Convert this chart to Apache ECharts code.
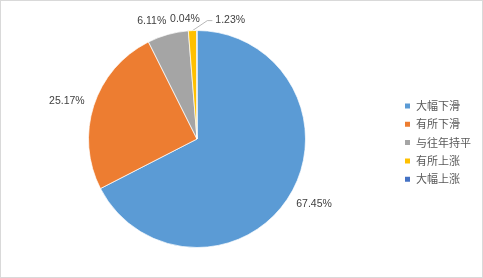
<!DOCTYPE html>
<html><head><meta charset="utf-8">
<script src="https://cdn.jsdelivr.net/npm/echarts@6/dist/echarts.min.js"></script>
<style>html,body{margin:0;padding:0;background:#fff}#c{width:483px;height:278px;box-sizing:border-box;border:1px solid #d9d9d9}</style>
</head><body><div id="c"></div>
<script>
const categories = ['大幅下滑', '有所下滑', '与往年持平', '有所上涨', '大幅上涨'];
const values = [67.45, 25.17, 6.11, 1.23, 0.04];
const colors = ['#5B9BD5', '#ED7D31', '#A5A5A5', '#FFC000', '#4472C4'];

// label nudges (dx, dy) in px, styling only
const labelNudge = [[-3.5, 5], [1.5, -2], [5, -8], [63, 0], [8, -5]];

function layoutLabel(p) {
  const [dx, dy] = labelNudge[p.dataIndex];
  const out = {dx: dx, dy: dy};
  if (p.dataIndex === 3 && p.labelLinePoints) {
    const r = p.labelRect;
    const ex = r.x + dx - 3, ey = r.y + dy + r.height / 2;
    const s = p.labelLinePoints[0];
    out.labelLinePoints = [[s[0], s[1]], [ex - 5, ey], [ex, ey]];
  }
  return out;
}

const chart = echarts.init(document.getElementById('c'), null, {renderer: 'canvas'});
chart.setOption({
  animation: false,
  color: colors,
  legend: {
    orient: 'vertical', left: 397, top: 94.5,
    itemWidth: 7, itemHeight: 7, itemGap: 7.3, icon: 'rect',
    textStyle: {fontFamily: 'Noto Sans CJK SC', fontSize: 11, lineHeight: 11, color: '#595959'},
    data: categories
  },
  series: [{
    type: 'pie',
    center: [196, 138],
    radius: 108.5,
    startAngle: 90,
    clockwise: true,
    avoidLabelOverlap: false,
    itemStyle: {borderColor: '#fff', borderWidth: 0.7},
    label: {
      position: 'outside', fontFamily: 'Liberation Sans', fontSize: 10.5, color: '#404040',
      formatter: p => p.value.toFixed(2) + '%'
    },
    labelLine: {show: true, length: 6, length2: 0, lineStyle: {color: 'rgba(0,0,0,0)', width: 0.8}},
    labelLayout: layoutLabel,
    data: categories.map((n, i) => ({
      name: n, value: values[i],
      labelLine: i === 3 ? {show: true, length: 10, length2: 5, lineStyle: {color: '#a6a6a6', width: 0.8}} : undefined
    }))
  }]
});
</script></body></html>
